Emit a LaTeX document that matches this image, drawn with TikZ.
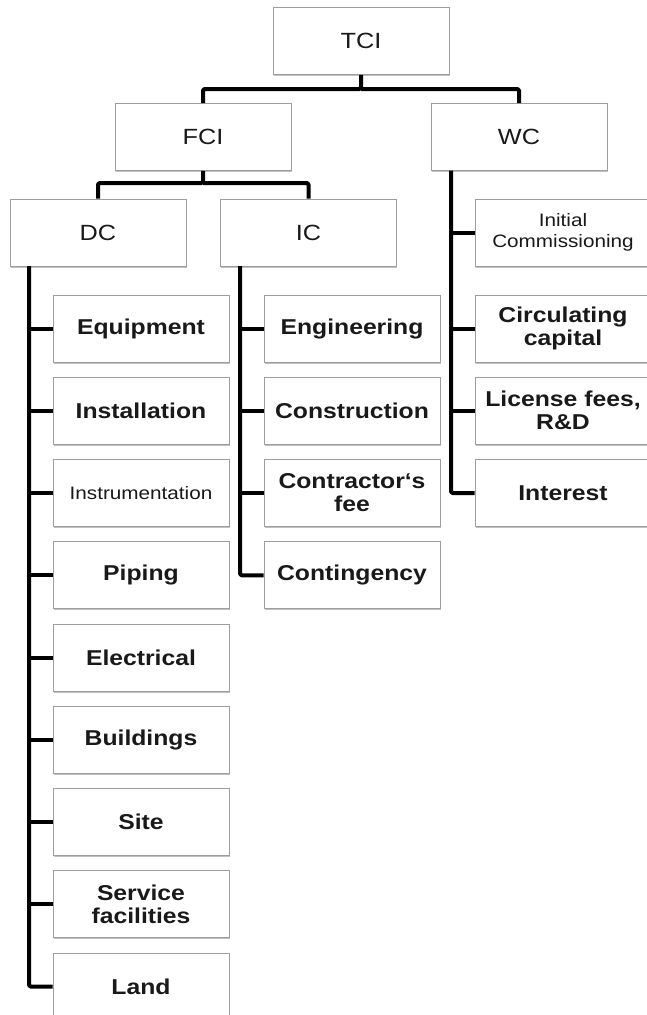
\documentclass[tikz,border=0pt]{standalone}
\usepackage{fontspec}
\setmainfont{Liberation Sans}[FakeStretch=1.15]
\usetikzlibrary{shadows}
\begin{document}
\begin{tikzpicture}[x=1pt,y=-1pt,
  box/.style={draw=black!38, line width=0.9pt, fill=white, rectangle, inner sep=0pt,
    align=center, text=black!90, minimum width=176pt, minimum height=67pt,
    drop shadow={shadow xshift=0.9pt,shadow yshift=-1.6pt,opacity=0.45,fill=black!55}},
  topbox/.style={box, font=\fontsize{22}{23}\selectfont},
  leaf/.style={box, font=\fontsize{21.5}{23}\selectfont\bfseries},
  smallleaf/.style={box, font=\fontsize{18}{21.5}\selectfont},
  conn/.style={draw=black, line width=4pt, line join=round, rounded corners=1.5pt}
]
\useasboundingbox (0,0) rectangle (647,1015);
\clip (0,0) rectangle (647,1015);
% top levels
\node[topbox] (tci) at (361,41) {TCI};
\node[topbox] (fci) at (203,137) {FCI};
\node[topbox] (wc) at (519,137) {WC};
\node[topbox] (dc) at (98,232.5) {DC};
\node[topbox] (ic) at (308.5,232.5) {IC};
\node[smallleaf] (init) at (563,232.5) {Initial\\Commissioning};
% DC children
\node[leaf] (equip) at (141,328.5) {Equipment};
\node[leaf] (inst) at (141,410.75) {Installation};
\node[smallleaf] (instr) at (141,493) {Instrumentation};
\node[leaf] (pip) at (141,575.25) {Piping};
\node[leaf] (elec) at (141,657.5) {Electrical};
\node[leaf] (build) at (141,739.75) {Buildings};
\node[leaf] (site) at (141,822) {Site};
\node[leaf] (serv) at (141,904.25) {Service\\facilities};
\node[leaf] (land) at (141,986.5) {Land};
% IC children
\node[leaf] (eng) at (352,328.5) {Engineering};
\node[leaf] (cons) at (352,410.75) {Construction};
\node[leaf] (contr) at (352,493) {Contractor‘s\\fee};
\node[leaf] (cont) at (352,575.25) {Contingency};
% WC children
\node[leaf] (circ) at (563,328.5) {Circulating\\capital};
\node[leaf] (lic) at (563,410.75) {License fees,\\R\&D};
\node[leaf] (intr) at (563,493) {Interest};
% connectors
\coordinate (tcij) at (361,89);
\draw[conn] (tci.south) -- (tcij) -| (fci.north);
\draw[conn] (tcij) -| (wc.north);
\coordinate (fcij) at (203,183);
\draw[conn] (fci.south) -- (fcij) -| (dc.north);
\draw[conn] (fcij) -| (ic.north);
% DC trunk
\coordinate (dct) at (29,266);
\draw[conn] (dct) |- (land.west);
\foreach \n in {equip,inst,instr,pip,elec,build,site,serv}
  \draw[conn] (dct |- \n.west) -- (\n.west);
% IC trunk
\coordinate (ict) at (240,266);
\draw[conn] (ict) |- (cont.west);
\foreach \n in {eng,cons,contr}
  \draw[conn] (ict |- \n.west) -- (\n.west);
% WC trunk
\coordinate (wct) at (451,170.5);
\draw[conn] (wct) |- (intr.west);
\foreach \n in {init,circ,lic}
  \draw[conn] (wct |- \n.west) -- (\n.west);
\end{tikzpicture}
\end{document}
